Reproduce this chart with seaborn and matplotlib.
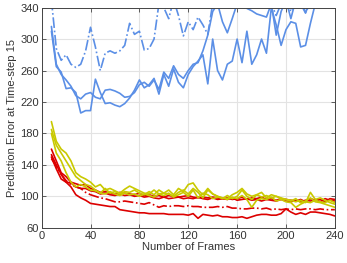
import numpy as np
import pandas as pd
import matplotlib
matplotlib.use("Agg")
import matplotlib.pyplot as plt
import seaborn as sns

frames = list(range(8, 241, 4))

blue_a = [316, 268, 255, 248, 240, 228, 224, 230, 232, 226, 224, 235, 236, 234, 231, 226, 227, 232, 242, 245,
          240, 248, 236, 258, 250, 266, 255, 250, 260, 268, 270, 285, 305, 335, 345, 322, 308, 326, 345, 350,
          339, 336, 332, 330, 328, 345, 305, 335, 350, 326, 350, 345, 333, 350, 355, 355, 360, 360, 365]
blue_b = [310, 265, 258, 237, 238, 232, 206, 209, 209, 249, 232, 218, 219, 216, 214, 218, 225, 235, 248, 238,
          242, 250, 230, 255, 240, 262, 245, 238, 255, 265, 272, 280, 243, 300, 260, 248, 268, 272, 300, 270,
          310, 268, 280, 300, 282, 340, 318, 292, 312, 322, 320, 290, 292, 320, 345, 350, 355, 360, 365]
blue_c = [350, 288, 273, 280, 268, 264, 268, 285, 315, 290, 260, 282, 285, 282, 285, 292, 320, 306, 310, 286,
          288, 300, 345, 340, 326, 350, 330, 304, 322, 312, 328, 318, 306, 345, 345, 350, 348, 345, 350, 350,
          345, 350, 345, 348, 352, 345, 330, 345, 350, 335, 348, 350, 334, 345, 352, 355, 355, 358, 360]

yellow_a = [195, 170, 160, 155, 145, 130, 125, 122, 118, 112, 115, 108, 110, 107, 104, 109, 113, 110, 107, 104,
            103, 108, 103, 104, 108, 102, 110, 106, 115, 117, 108, 102, 110, 103, 100, 98, 97, 102, 105, 110,
            103, 100, 102, 105, 98, 102, 100, 98, 96, 95, 93, 95, 92, 105, 96, 98, 95, 92, 90]
yellow_b = [185, 165, 155, 145, 135, 125, 120, 115, 113, 108, 104, 110, 104, 106, 103, 106, 105, 108, 104, 102,
            106, 102, 108, 104, 103, 100, 105, 108, 103, 110, 105, 98, 108, 103, 100, 97, 101, 97, 100, 108,
            100, 96, 102, 99, 101, 98, 100, 97, 96, 94, 97, 92, 94, 98, 93, 92, 90, 88, 86]
yellow_c = [180, 155, 145, 130, 118, 112, 115, 112, 108, 107, 104, 103, 106, 103, 101, 104, 102, 103, 100, 103,
            101, 99, 103, 101, 104, 99, 102, 105, 100, 108, 98, 104, 102, 97, 99, 98, 96, 99, 97, 101,
            96, 86, 95, 97, 96, 99, 94, 96, 93, 92, 86, 90, 93, 92, 95, 93, 92, 95, 92]

red_a = [160, 145, 130, 125, 118, 116, 114, 115, 110, 108, 105, 106, 104, 103, 105, 104, 103, 102, 104, 101,
         102, 100, 101, 99, 101, 100, 99, 100, 101, 99, 98, 99, 98, 99, 98, 97, 98, 96, 97, 99,
         96, 98, 97, 99, 96, 97, 95, 97, 96, 95, 94, 96, 93, 97, 95, 96, 93, 97, 96]
red_b = [153, 140, 128, 118, 117, 112, 110, 110, 107, 106, 103, 104, 102, 101, 103, 101, 102, 100, 101, 99,
         100, 98, 97, 99, 97, 98, 99, 97, 98, 97, 99, 97, 96, 98, 96, 97, 96, 98, 95, 96,
         97, 95, 96, 94, 96, 95, 94, 96, 94, 93, 95, 93, 95, 94, 96, 93, 97, 95, 94]
red_c = [148, 138, 128, 120, 115, 112, 110, 105, 102, 100, 98, 97, 95, 93, 93, 94, 93, 92, 91, 90,
         92, 89, 86, 88, 87, 88, 88, 87, 88, 87, 87, 86, 86, 86, 87, 86, 87, 85, 85, 84,
         84, 85, 85, 84, 85, 83, 84, 83, 84, 83, 84, 83, 84, 84, 83, 84, 83, 83, 83]
red_d = [150, 135, 122, 118, 112, 102, 98, 95, 91, 90, 89, 88, 87, 87, 83, 82, 81, 80, 79, 79,
         78, 78, 78, 78, 77, 77, 77, 77, 76, 78, 72, 77, 76, 75, 76, 74, 74, 73, 73, 74,
         72, 74, 76, 77, 77, 76, 76, 78, 84, 80, 77, 79, 77, 80, 80, 79, 78, 77, 75]

x_ticks = [0, 40, 80, 120, 160, 200, 240]
y_ticks = [60, 100, 140, 180, 220, 260, 300, 340]

BLUE = "#5b8fe6"
YELLOW = "#c9c900"
RED = "#dc0000"

series = [
    (blue_a, BLUE, "-"), (blue_b, BLUE, "-"), (blue_c, BLUE, "-."),
    (red_d, RED, "-"), (red_c, RED, "-."), (red_b, RED, "-"), (red_a, RED, "-"),
    (yellow_a, YELLOW, "-"), (yellow_b, YELLOW, "-"), (yellow_c, YELLOW, "-"),
]

sns.set_theme(style="white")
plt.rcParams['font.family'] = ['Liberation Sans', 'DejaVu Sans']

fig = plt.figure(figsize=(3.47, 2.63), dpi=100)
ax = fig.add_axes([0.120, 0.134, 0.845, 0.837])

for vals, col, ls in series:
    sns.lineplot(x=frames, y=vals, ax=ax, color=col, linestyle=ls, linewidth=1.2, estimator=None)

ax.set_xlim(0, 240)
ax.set_ylim(60, 340)
ax.set_xticks(x_ticks)
ax.set_yticks(y_ticks)
ax.grid(True, color="#e3e3e3", linewidth=0.8)
ax.set_axisbelow(True)
for s in ax.spines.values():
    s.set_color("#444444")
    s.set_linewidth(0.7)
ax.tick_params(direction="in", length=3, width=0.6, color="#444444", labelsize=8,
               labelcolor="#333333", top=True, right=True, bottom=True, left=True, pad=2)
ax.set_xlabel("Number of Frames", fontsize=8, color="#333333", labelpad=1)
ax.set_ylabel("Prediction Error at Time-step 15", fontsize=8, color="#333333", labelpad=2)

fig.savefig("out.png", dpi=100)
